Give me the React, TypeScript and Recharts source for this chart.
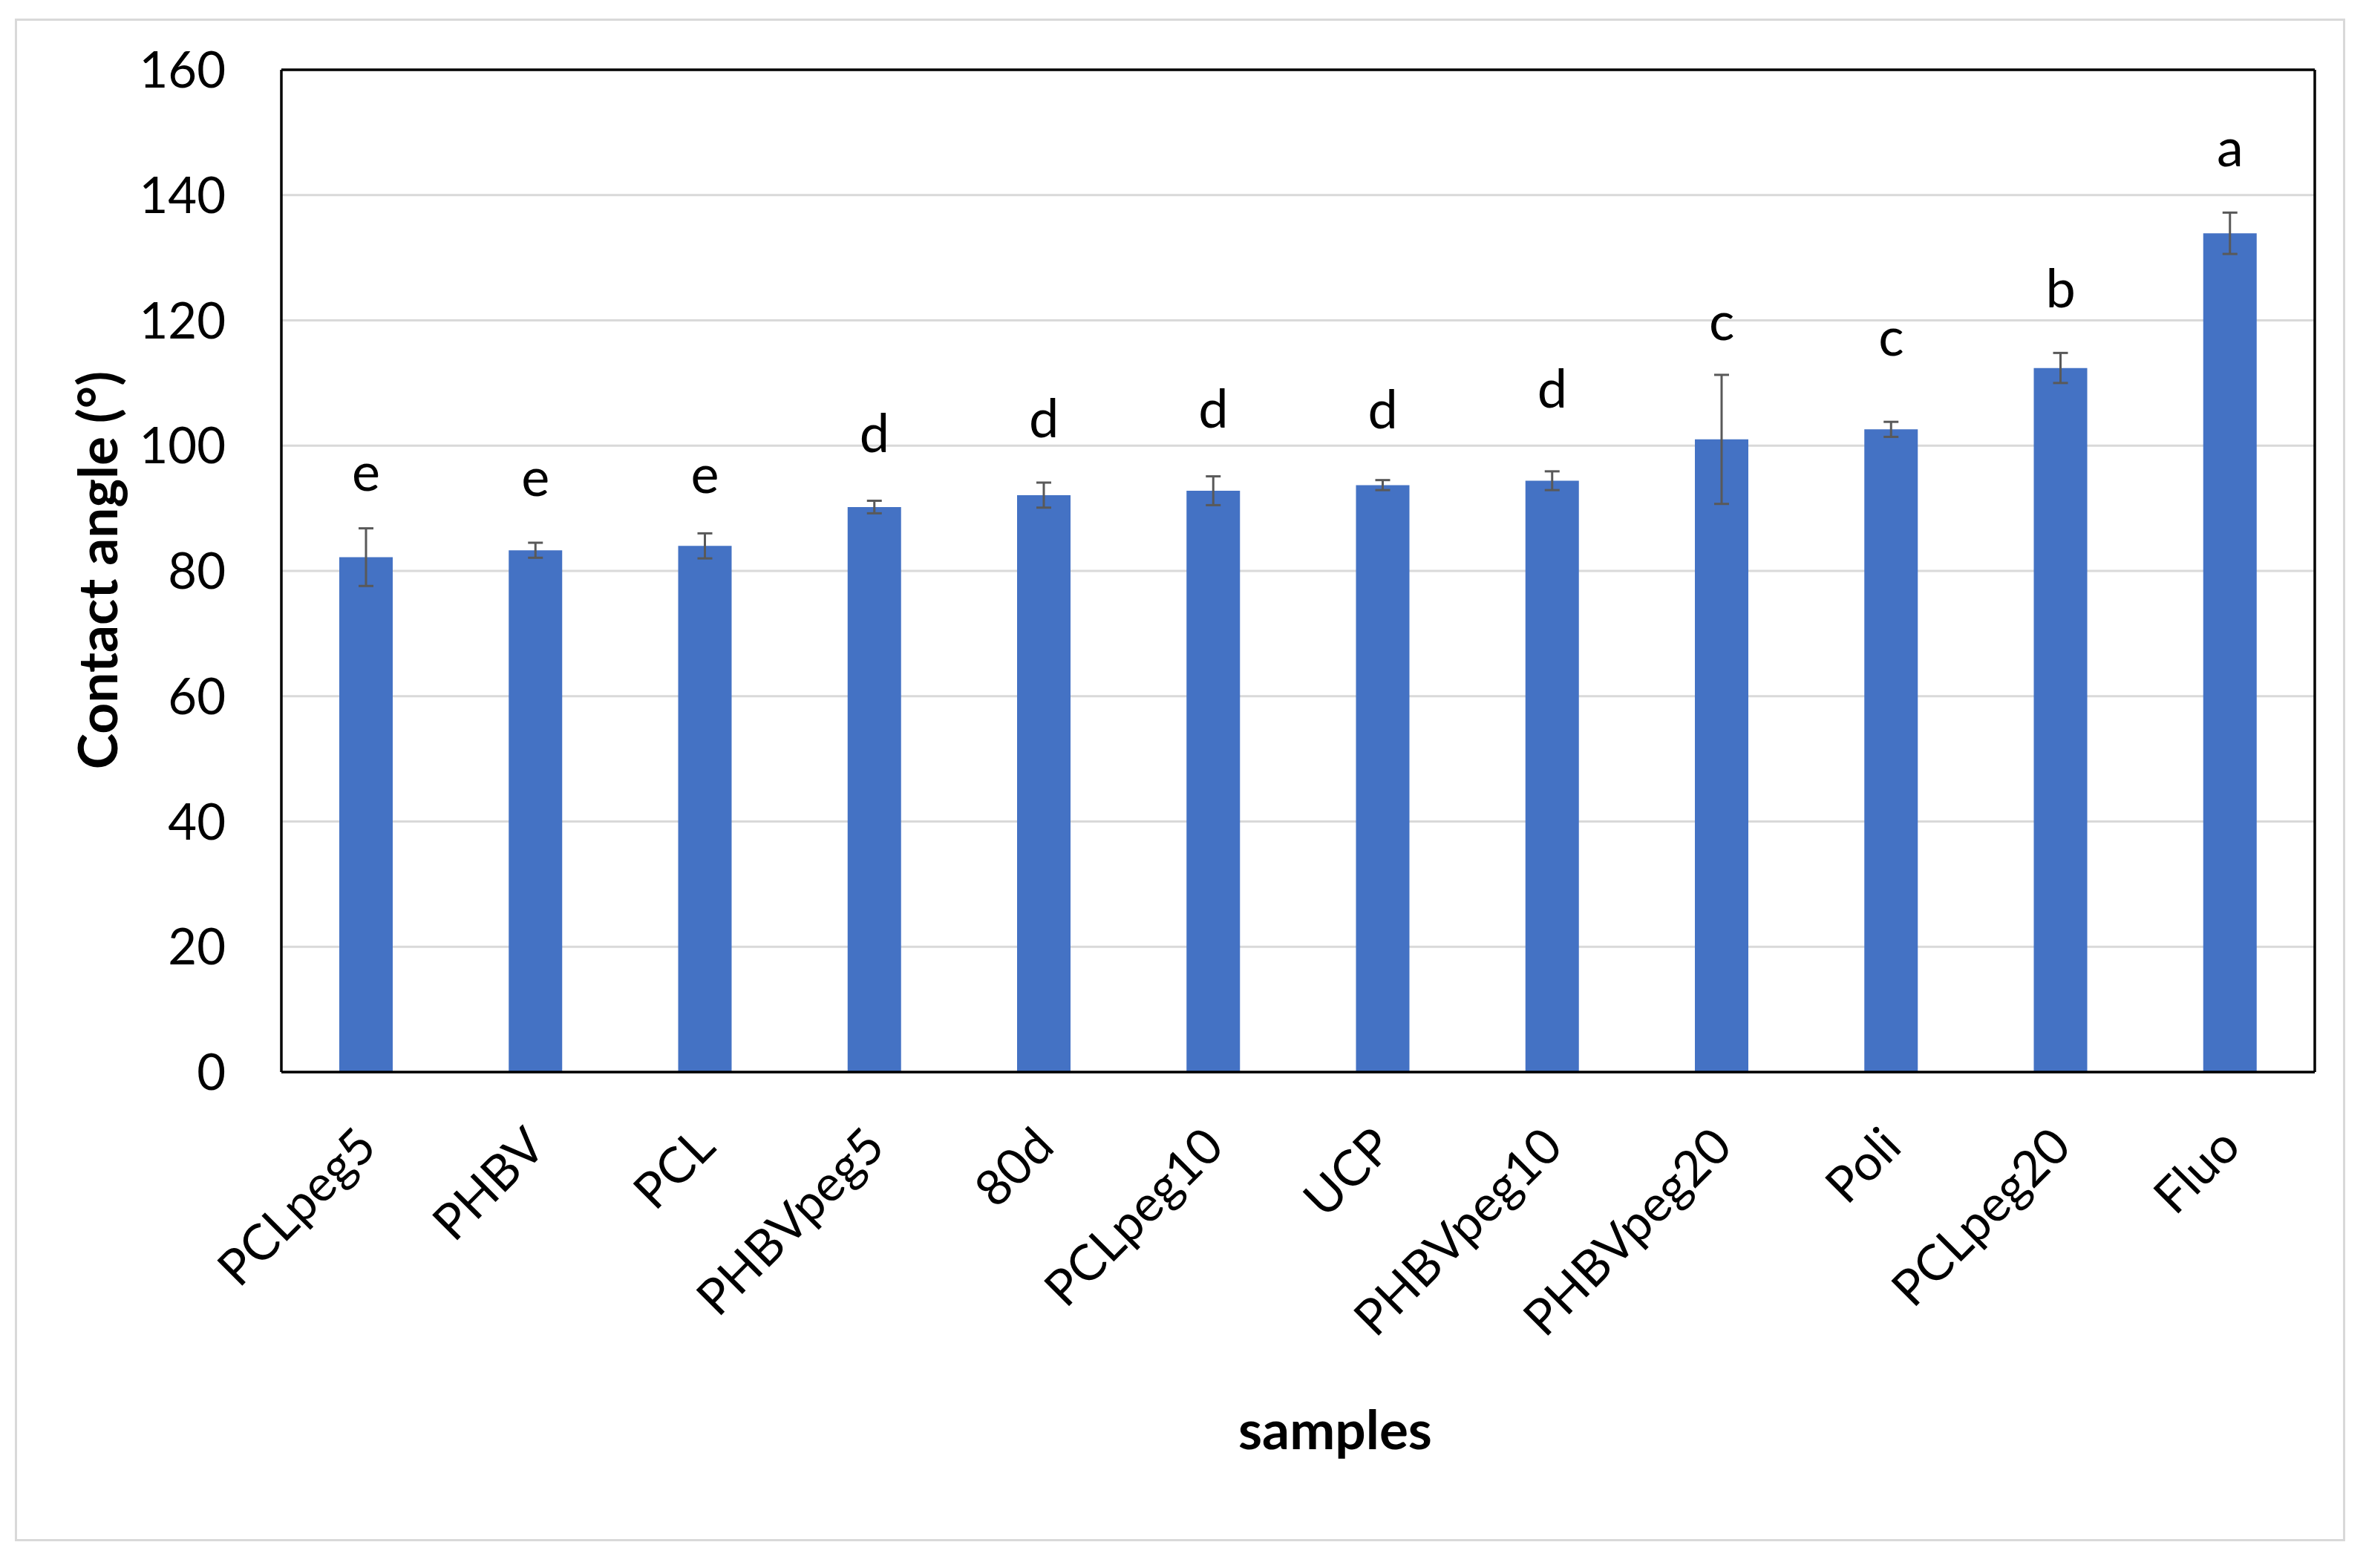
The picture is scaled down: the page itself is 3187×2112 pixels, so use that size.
import React from 'react';
import {
  ComposedChart,
  Bar,
  Line,
  XAxis,
  YAxis,
  CartesianGrid,
  ErrorBar,
  LabelList,
} from 'recharts';

// ---- data ----
const categories = ['PCLpeg5', 'PHBV', 'PCL', 'PHBVpeg5', '80d', 'PCLpeg10', 'UCP', 'PHBVpeg10', 'PHBVpeg20', 'Poli', 'PCLpeg20', 'Fluo'];
const contactAngle = [82.2, 83.3, 84.0, 90.2, 92.1, 92.8, 93.7, 94.4, 101.0, 102.6, 112.4, 133.9];
const stdDev = [4.6, 1.2, 2.0, 1.0, 2.0, 2.3, 0.8, 1.5, 10.3, 1.2, 2.4, 3.3];
const groupLetters = ['e', 'e', 'e', 'd', 'd', 'd', 'd', 'd', 'c', 'c', 'b', 'a'];
// height (in degrees, on the y scale) at which each significance letter sits
const letterLevel = [92.8, 92.0, 92.4, 99.0, 101.3, 102.9, 102.8, 106.1, 116.9, 114.4, 122.1, 144.6];
const yTicks = [0, 20, 40, 60, 80, 100, 120, 140, 160];

const data = categories.map((name, i) => ({
  name,
  value: contactAngle[i],
  sd: stdDev[i],
  letter: groupLetters[i],
  letterAt: letterLevel[i],
}));

const FONT = "Lato, 'Open Sans', 'Noto Sans', sans-serif";

const YTick = (props: any) => {
  const { x, y, payload } = props;
  return (
    <text x={x - 75} y={y + 24} textAnchor="end" fontSize={67} fontFamily={FONT} fill="#000">
      {payload.value}
    </text>
  );
};

const XTick = (props: any) => {
  const { x, y, payload } = props;
  return (
    <g transform={`translate(${x + 17},${y + 104}) rotate(-45)`}>
      <text x={0} y={0} textAnchor="end" fontSize={67} fontFamily={FONT} fill="#000">
        {payload.value}
      </text>
    </g>
  );
};

const LetterLabel = (props: any) => {
  const x = props.x ?? props.viewBox?.x;
  const y = props.y ?? props.viewBox?.y;
  return (
    <text x={x} y={y} textAnchor="middle" fontSize={72} fontFamily={FONT} fill="#000">
      {props.value}
    </text>
  );
};

const XTitle = (props: any) => {
  const vb = props.viewBox || {};
  const cx = vb.x + vb.width / 2 + 50;
  return (
    <text x={cx} y={vb.y + 508} textAnchor="middle" fontSize={73} fontWeight={700} fontFamily={FONT} fill="#000">
      samples
    </text>
  );
};

const YTitle = (props: any) => {
  const vb = props.viewBox || {};
  const cy = vb.y + vb.height / 2 - 1;
  const bx = 158;
  return (
    <text
      x={bx}
      y={cy}
      transform={`rotate(-90, ${bx}, ${cy})`}
      textAnchor="middle"
      fontSize={73}
      fontWeight={700}
      fontFamily={FONT}
      fill="#000"
    >
      Contact angle (°)
    </text>
  );
};

export default function App() {
  return (
    <div style={{ position: 'absolute', left: 0, top: 0, width: 3187, height: 2112, background: '#fff' }}>
      <div
        style={{
          position: 'absolute',
          left: 20,
          top: 25,
          width: 3139,
          height: 2051,
          border: '3px solid #d9d9d9',
          boxSizing: 'border-box',
        }}
      />
      <div style={{ position: 'absolute', left: 0, top: 0 }}>
        <ComposedChart
          width={3187}
          height={2112}
          data={data}
          margin={{ top: 93, right: 68, bottom: 0, left: 0 }}
        >
          <CartesianGrid horizontal vertical={false} stroke="#d9d9d9" strokeWidth={3} />
          <XAxis
            dataKey="name"
            height={668}
            interval={0}
            tickLine={false}
            tickSize={0}
            tickMargin={0}
            axisLine={{ stroke: '#000', strokeWidth: 3.5 }}
            tick={<XTick />}
            label={<XTitle />}
          />
          <XAxis
            xAxisId="top"
            dataKey="name"
            orientation="top"
            height={1}
            interval={0}
            tick={false}
            tickLine={false}
            tickSize={0}
            axisLine={{ stroke: '#000', strokeWidth: 3.5 }}
          />
          <YAxis
            width={379}
            domain={[0, 160]}
            ticks={yTicks}
            interval={0}
            tickLine={false}
            tickSize={0}
            tickMargin={0}
            axisLine={{ stroke: '#000', strokeWidth: 3.5 }}
            tick={<YTick />}
            label={<YTitle />}
          />
          <YAxis
            yAxisId="right"
            orientation="right"
            width={1}
            domain={[0, 160]}
            ticks={yTicks}
            tick={false}
            tickLine={false}
            tickSize={0}
            axisLine={{ stroke: '#000', strokeWidth: 3.5 }}
          />
          <Bar dataKey="value" fill="#4472C4" barSize={72} isAnimationActive={false}>
            <ErrorBar dataKey="sd" width={10} stroke="#595959" strokeWidth={3} direction="y" />
          </Bar>
          <Line
            xAxisId="top"
            yAxisId="right"
            dataKey="letterAt"
            stroke="none"
            dot={false}
            activeDot={false}
            legendType="none"
            isAnimationActive={false}
          >
            <LabelList dataKey="letter" content={<LetterLabel />} />
          </Line>
        </ComposedChart>
      </div>
    </div>
  );
}
